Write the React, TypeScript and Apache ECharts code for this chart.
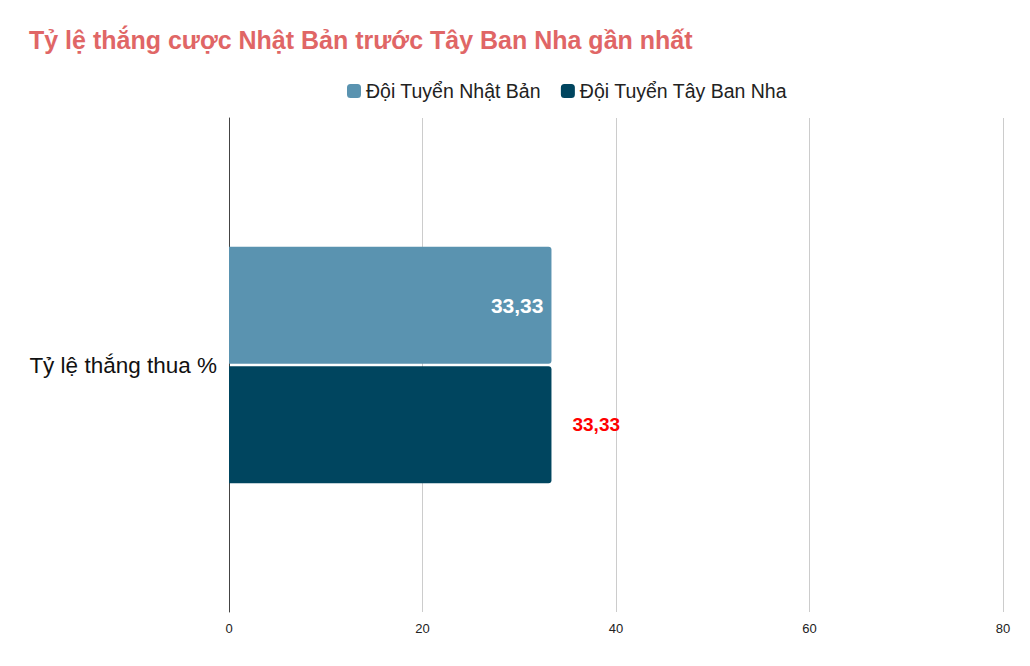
import React, { useEffect, useRef } from 'react';
import * as echarts from 'echarts';

const categories = ['Tỷ lệ thắng thua %'];
const japanValues = [33.33];
const spainValues = [33.33];
const seriesNames = ['Đội Tuyển Nhật Bản', 'Đội Tuyển Tây Ban Nha'];

const fmt = (v: number) => v.toFixed(2).replace('.', ',');

const App: React.FC = () => {
  const chartRef = useRef<HTMLDivElement>(null);

  useEffect(() => {
    if (!chartRef.current) return;
    const chart = echarts.init(chartRef.current, undefined, { renderer: 'svg' });

    const options = {
      animation: false,
      backgroundColor: '#ffffff',
      textStyle: { fontFamily: 'Liberation Sans, Arial, sans-serif' },
      title: {
        text: 'Tỷ lệ thắng cược Nhật Bản trước Tây Ban Nha gần nhất',
        left: 24,
        top: 22,
        textStyle: {
          color: '#e06666',
          fontSize: 25,
          fontWeight: 'bold',
          fontFamily: 'Liberation Sans, Arial, sans-serif',
        },
      },
      legend: {
        data: seriesNames,
        top: 76,
        left: 342,
        itemWidth: 14,
        itemHeight: 14,
        itemGap: 20,
        icon: 'roundRect',
        textStyle: { fontSize: 19.5, color: '#222' },
      },
      grid: {
        left: 229,
        right: 27,
        top: 118,
        bottom: 54,
      },
      xAxis: {
        type: 'value',
        min: 0,
        max: 80,
        interval: 20,
        axisLine: { show: false },
        axisTick: { show: false },
        splitLine: { lineStyle: { color: '#cccccc', width: 1 } },
        axisLabel: {
          fontSize: 13,
          color: '#222',
          margin: 10,
          fontFamily: 'Liberation Sans Narrow, Liberation Sans, Arial, sans-serif',
        },
      },
      yAxis: {
        type: 'category',
        data: categories,
        inverse: true,
        axisLine: { show: true, lineStyle: { color: '#444', width: 1 } },
        axisTick: { show: false },
        axisLabel: { fontSize: 22.5, color: '#111', margin: 12 },
      },
      series: [
        {
          name: seriesNames[0],
          type: 'bar',
          data: japanValues,
          barWidth: 117,
          barGap: '2%',
          itemStyle: { color: '#5a93b0', borderRadius: [0, 3, 3, 0] },
          label: {
            show: true,
            position: 'insideRight',
            formatter: (p: any) => fmt(p.value),
            color: '#ffffff',
            fontSize: 21,
            fontWeight: 'bold',
            distance: 8,
          },
        },
        {
          name: seriesNames[1],
          type: 'bar',
          data: spainValues,
          barWidth: 117,
          barGap: '2%',
          itemStyle: { color: '#00455f', borderRadius: [0, 3, 3, 0] },
          label: {
            show: true,
            position: 'right',
            formatter: (p: any) => fmt(p.value),
            color: '#ff0000',
            fontSize: 19,
            fontWeight: 'bold',
            distance: 21,
          },
        },
      ],
    };

    chart.setOption(options);
    return () => {
      chart.dispose();
    };
  }, []);

  return (
    <div
      ref={chartRef}
      style={{ width: '1030px', height: '666px', margin: '-8px' }}
    />
  );
};

export default App;
